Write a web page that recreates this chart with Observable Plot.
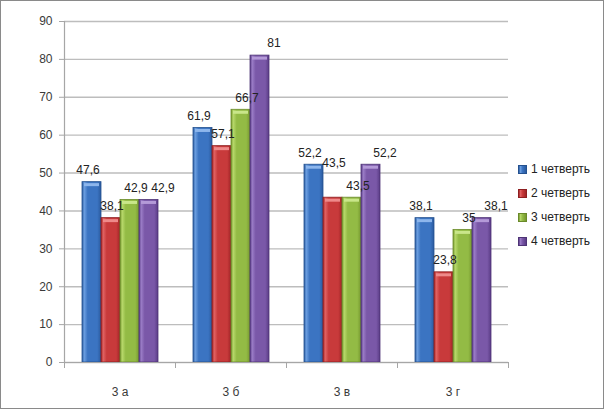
<!DOCTYPE html>
<html>
<head>
<meta charset="utf-8">
<script src="https://cdn.jsdelivr.net/npm/d3@7"></script>
<script src="https://cdn.jsdelivr.net/npm/@observablehq/plot@0.6"></script>
<style>
  html, body { margin: 0; padding: 0; background: #fff; }
  #wrap { position: relative; width: 604px; height: 409px; overflow: hidden; }
  #border { position: absolute; left: 0; top: 0; width: 602px; height: 407px; border: 1px solid #8a8a8a; pointer-events: none; }
  #legend { position: absolute; left: 518px; top: 162px; font: 12px "Liberation Sans", Arial, sans-serif; color: #222; }
  .item { height: 24px; display: flex; align-items: flex-start; white-space: nowrap; }
  .sw { width: 7px; height: 7px; margin-top: 3px; margin-right: 4px; border: 1px solid; }
</style>
</head>
<body>
<div id="wrap"><div id="chart"></div><div id="legend"></div><div id="border"></div></div>
<script>
const categories = ["3 а", "3 б", "3 в", "3 г"];
const seriesNames = ["1 четверть", "2 четверть", "3 четверть", "4 четверть"];
const q1 = [47.6, 61.9, 52.2, 38.1];
const q2 = [38.1, 57.1, 43.5, 23.8];
const q3 = [42.9, 66.7, 43.5, 35];
const q4 = [42.9, 81, 52.2, 38.1];
const yTicks = [0, 10, 20, 30, 40, 50, 60, 70, 80, 90];

const seriesValues = [q1, q2, q3, q4];
const palette = [
  {dark: "#2a5a9e", light: "#6b9ee0", base: "#3b74c2", edge: "#24518f", top: "#8db6ec"},
  {dark: "#a02426", light: "#e06262", base: "#c83a3b", edge: "#8e1f21", top: "#ee8a8a"},
  {dark: "#76982f", light: "#b7d86a", base: "#93bb45", edge: "#6a8a2a", top: "#c9e68a"},
  {dark: "#5a3c86", light: "#9a7cc6", base: "#7a58a8", edge: "#4e3476", top: "#b49ad8"}
];
const labelDx = [-4, 1, 6, 14];

const data = [];
categories.forEach((c, ci) => seriesNames.forEach((s, si) => {
  data.push({cat: c, series: s, si, value: seriesValues[si][ci]});
}));
const fmt = v => String(v).replace(".", ",");

const H = 409, W = 604, mT = 21, mB = 47;
const plotH = H - mT - mB;

const marks = [
  Plot.gridY({ticks: yTicks, stroke: "#bdbdbd", strokeOpacity: 1, strokeWidth: 1.4}),
  Plot.barY(data, {
    fx: "cat", x: "series", y: "value",
    fill: d => `url(#g${d.si})`,
    stroke: d => palette[d.si].edge, strokeWidth: 0.8
  }),
  Plot.tickY(data, {
    fx: "cat", x: "series", y: "value",
    stroke: d => palette[d.si].top, strokeWidth: 3, dy: 2.5, insetLeft: 2, insetRight: 2
  }),
  Plot.ruleY([0], {stroke: "#a6a6a6", strokeWidth: 1.2}),
  Plot.frame({anchor: "left", stroke: "#a6a6a6", insetTop: plotH, insetBottom: -5}),
  Plot.frame({anchor: "right", stroke: "#a6a6a6", insetTop: plotH, insetBottom: -5}),
  Plot.frame({anchor: "left", stroke: "#a6a6a6", strokeWidth: 1.2, facetAnchor: "left"}),
  Plot.axisY({ticks: yTicks, tickSize: 5, tickPadding: 7, stroke: "#a6a6a6", fill: "#3a3a3a", label: null, tickFormat: d => d}),
  Plot.axisFx({anchor: "bottom", tickSize: 0, tickPadding: 25, label: null, fill: "#3a3a3a"}),
  ...seriesNames.map((s, si) => Plot.text(data.filter(d => d.si === si), {
    fx: "cat", x: "series", y: "value", text: d => fmt(d.value),
    dy: -12, dx: labelDx[si], fill: "#222"
  }))
];

const chart = Plot.plot({
  width: W, height: H,
  marginLeft: 63, marginRight: 95, marginTop: mT, marginBottom: mB,
  style: {fontFamily: "'Liberation Sans', Arial, sans-serif", fontSize: "12px", background: "transparent"},
  fx: {domain: categories, padding: 0, label: null, axis: null},
  x: {domain: seriesNames, paddingInner: 0, paddingOuter: 0.7875, axis: null},
  y: {domain: [0, 90], axis: null},
  color: {type: "identity"},
  marks
});

// gradients
const ns = "http://www.w3.org/2000/svg";
const defs = document.createElementNS(ns, "defs");
palette.forEach((p, i) => {
  const g = document.createElementNS(ns, "linearGradient");
  g.setAttribute("id", `g${i}`);
  g.setAttribute("x1", "0"); g.setAttribute("x2", "1"); g.setAttribute("y1", "0"); g.setAttribute("y2", "0");
  [[0, p.dark], [0.12, p.light], [0.3, p.base], [0.8, p.base], [1, p.dark]].forEach(([o, c]) => {
    const st = document.createElementNS(ns, "stop");
    st.setAttribute("offset", o); st.setAttribute("stop-color", c);
    g.appendChild(st);
  });
  defs.appendChild(g);
});
const svg = chart.tagName.toLowerCase() === "svg" ? chart : chart.querySelector("svg");
svg.insertBefore(defs, svg.firstChild);
document.getElementById("chart").appendChild(chart);

// simple label collision pass: raise a label that touches its right-hand neighbour at the same height
const texts = [...svg.querySelectorAll('g[aria-label="text"] text')];
const rects = texts.map(t => t.getBoundingClientRect());
texts.forEach((t, i) => {
  const a = rects[i];
  const clash = rects.some((b, j) => j !== i && Math.abs(a.top - b.top) < 6 &&
    b.left > a.left && b.left - a.right < 3 && b.left - a.right > -a.width);
  if (clash) t.setAttribute("transform", (t.getAttribute("transform") || "") + " translate(0,-23)");
});

// legend
const legend = document.getElementById("legend");
seriesNames.forEach((s, i) => {
  const p = palette[i];
  const row = document.createElement("div");
  row.className = "item";
  const sw = document.createElement("span");
  sw.className = "sw";
  sw.style.background = `linear-gradient(90deg, ${p.dark}, ${p.light} 20%, ${p.base} 50%, ${p.dark})`;
  sw.style.borderColor = p.edge;
  const t = document.createElement("span");
  t.textContent = s;
  row.appendChild(sw); row.appendChild(t);
  legend.appendChild(row);
});
</script>
</body>
</html>
